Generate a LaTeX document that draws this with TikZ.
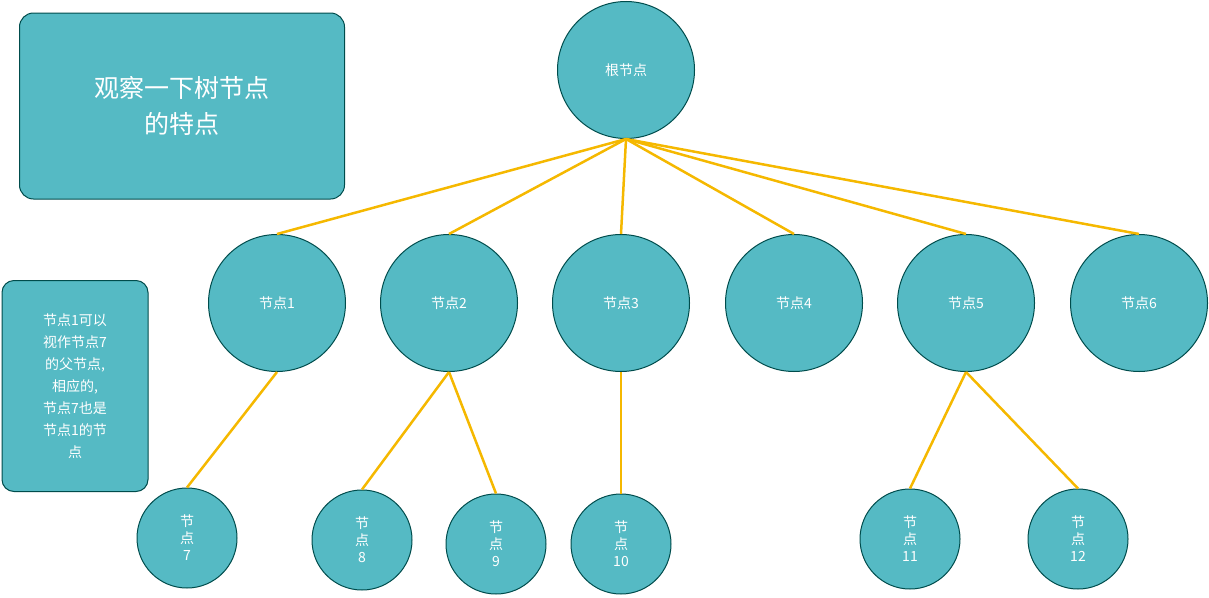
\documentclass[tikz,border=0pt]{standalone}
\usepackage{fontspec}
\setmainfont{Noto Sans CJK SC}
\begin{document}
\begin{tikzpicture}[x=1pt,y=-1pt,
  nd/.style={circle,draw=teal!60!black,fill=fcol,line width=1pt,text=white,font=\fontsize{14}{16}\selectfont,inner sep=0pt,align=center},
  big/.style={nd,minimum size=137pt},
  small/.style={nd,minimum size=100pt,font=\fontsize{14}{17}\selectfont},
  bx/.style={draw=teal!60!black,fill=fcol,line width=1pt,rounded corners=14pt,text=white,align=center},
  ed/.style={draw=ecol,line width=2.5pt}]
\definecolor{fcol}{HTML}{55BAC4}\definecolor{ecol}{HTML}{F5B800}
\useasboundingbox (0,0) rectangle (1209,597);
\node[bx,minimum width=325pt,minimum height=186pt,font=\fontsize{25}{36}\selectfont] (b1) at (182,106) {观察一下树节点\\的特点};
\node[bx,minimum width=146pt,minimum height=211pt,font=\fontsize{14}{22}\selectfont,rounded corners=12pt] (b2) at (75,386) {节点1可以\\视作节点7\\的父节点,\\相应的,\\节点7也是\\节点1的节\\点};
\node[big] (r) at (626,70) {根节点};
\foreach \i/\x in {1/277,2/449,3/621,4/794,5/966,6/1139}{
  \node[big] (n\i) at (\x,303) {节点\i};
  \draw[ed] (r.south) -- (n\i.north);
}
\node[small] (c7) at (187,538) {节\\点\\7};
\node[small] (c8) at (362,540) {节\\点\\8};
\node[small] (c9) at (496,544) {节\\点\\9};
\node[small] (c10) at (621,544) {节\\点\\10};
\node[small] (c11) at (910,539) {节\\点\\11};
\node[small] (c12) at (1078,539) {节\\点\\12};
\begin{scope}[on background layer/.style={}]
\end{scope}
\draw[ed] (n1.south) ++(0,0) -- (c7.north);
\draw[ed] (n2.south) -- (c8.north);
\draw[ed] (n2.south) -- (c9.north);
\draw[ed] (n3.south) -- (c10.north);
\draw[ed] (n5.south) -- (c11.north);
\draw[ed] (n5.south) -- (c12.north);
\end{tikzpicture}
\end{document}
